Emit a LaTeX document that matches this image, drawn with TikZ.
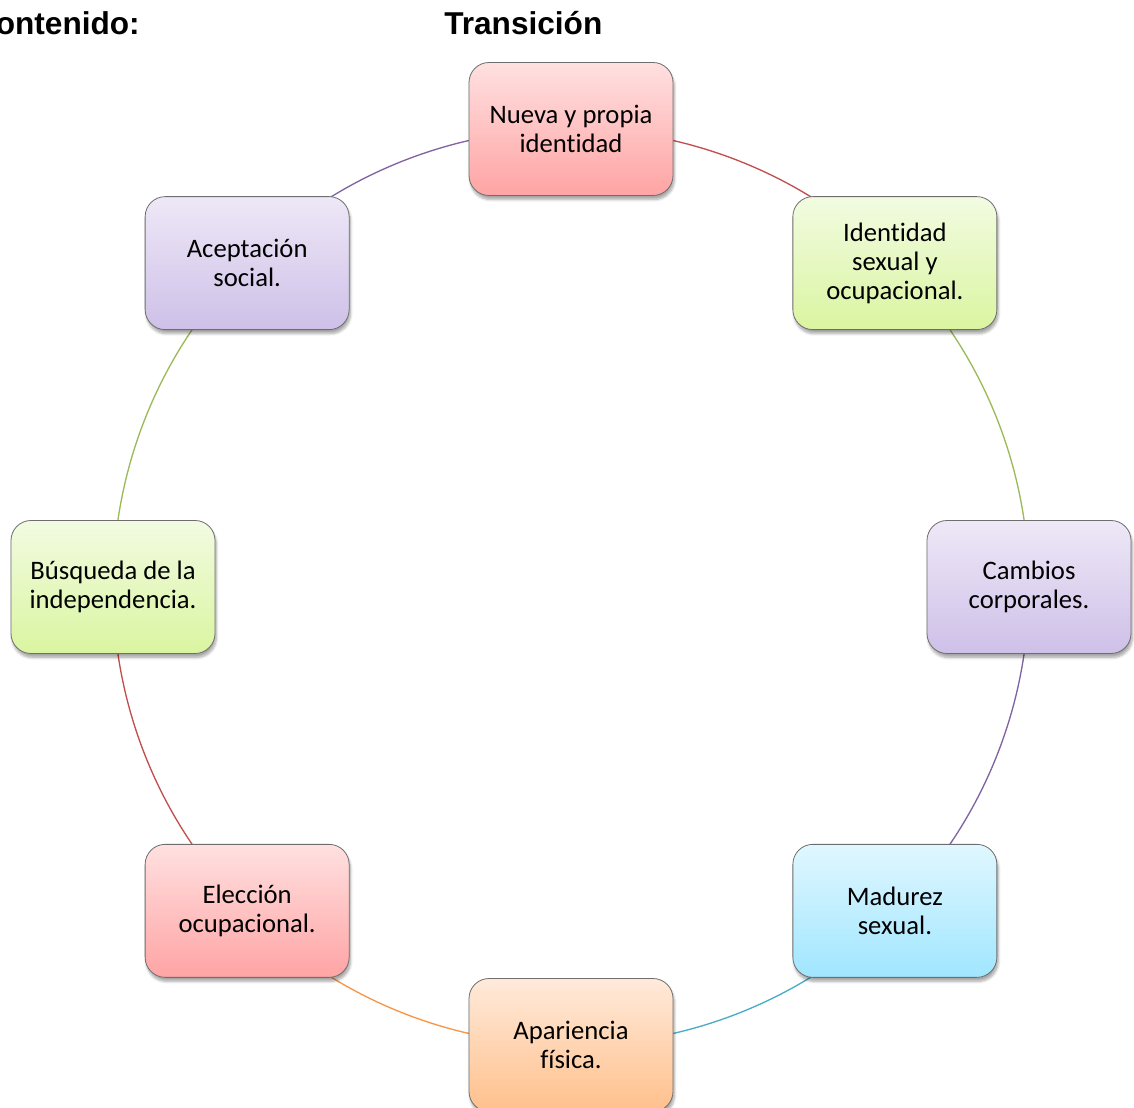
\documentclass[tikz,border=0pt]{standalone}
\usepackage{fontspec}
\setmainfont{Carlito}[Ligatures={NoCommon}]
\newfontfamily\arialfont{Liberation Sans}
\usetikzlibrary{shadows.blur}
\definecolor{lnred}{RGB}{192,80,77}
\definecolor{lngreen}{RGB}{155,187,89}
\definecolor{lnpurple}{RGB}{128,100,162}
\definecolor{lnblue}{RGB}{75,172,198}
\definecolor{lnorange}{RGB}{247,150,70}
\definecolor{redT}{RGB}{255,224,224}\definecolor{redB}{RGB}{255,164,164}
\definecolor{greenT}{RGB}{242,251,226}\definecolor{greenB}{RGB}{218,245,160}
\definecolor{purpleT}{RGB}{238,232,247}\definecolor{purpleB}{RGB}{206,192,232}
\definecolor{blueT}{RGB}{224,247,255}\definecolor{blueB}{RGB}{160,230,255}
\definecolor{orangeT}{RGB}{255,234,218}\definecolor{orangeB}{RGB}{255,192,140}
\definecolor{boxborder}{RGB}{110,110,110}
\tikzset{
  stagebox/.style={draw=boxborder, line width=0.6pt, rounded corners=15pt,
    minimum width=153pt, minimum height=99.75pt, inner sep=0pt, align=center,
    font=\fontsize{20}{21.75}\selectfont,
    blur shadow={shadow xshift=1pt, shadow yshift=-3pt, shadow blur steps=6, shadow opacity=35}},
  redbox/.style={stagebox, top color=redT, bottom color=redB},
  greenbox/.style={stagebox, top color=greenT, bottom color=greenB},
  purplebox/.style={stagebox, top color=purpleT, bottom color=purpleB},
  bluebox/.style={stagebox, top color=blueT, bottom color=blueB},
  orangebox/.style={stagebox, top color=orangeT, bottom color=orangeB},
  ring/.style={line width=1pt},
  header/.style={font=\arialfont\bfseries\fontsize{23.7}{28}\selectfont, inner sep=0pt}
}
\begin{document}
\begin{tikzpicture}[x=0.75pt,y=0.75pt]
\useasboundingbox (0,0) rectangle (1134,1107);
\coordinate (c) at (571,520);
\def\R{458}
% connectors (arcs of the ring)
\draw[ring, lnred]    ([shift={(90:\R)}]c) arc[start angle=90, end angle=45, radius=\R];
\draw[ring, lngreen]  ([shift={(45:\R)}]c) arc[start angle=45, end angle=0, radius=\R];
\draw[ring, lnpurple] ([shift={(0:\R)}]c) arc[start angle=0, end angle=-45, radius=\R];
\draw[ring, lnblue]   ([shift={(-45:\R)}]c) arc[start angle=-45, end angle=-90, radius=\R];
\draw[ring, lnorange] ([shift={(-90:\R)}]c) arc[start angle=-90, end angle=-135, radius=\R];
\draw[ring, lnred]    ([shift={(-135:\R)}]c) arc[start angle=-135, end angle=-180, radius=\R];
\draw[ring, lngreen]  ([shift={(180:\R)}]c) arc[start angle=180, end angle=135, radius=\R];
\draw[ring, lnpurple] ([shift={(135:\R)}]c) arc[start angle=135, end angle=90, radius=\R];
% nodes
\node[redbox]    (n1) at ([shift={(90:\R)}]c)   {Nueva y propia\\identidad};
\node[greenbox]  (n2) at ([shift={(45:\R)}]c)   {Identidad\\sexual y\\ocupacional.};
\node[purplebox] (n3) at ([shift={(0:\R)}]c)    {Cambios\\corporales.};
\node[bluebox]   (n4) at ([shift={(-45:\R)}]c)  {Madurez\\sexual.};
\node[orangebox] (n5) at ([shift={(-90:\R)}]c)  {Apariencia\\física.};
\node[redbox]    (n6) at ([shift={(-135:\R)}]c) {Elección\\ocupacional.};
\node[greenbox]  (n7) at ([shift={(180:\R)}]c)  {Búsqueda de la\\independencia.};
\node[purplebox] (n8) at ([shift={(135:\R)}]c)  {Aceptación\\social.};
% headers
\node[header, anchor=base east] (h1) at (140,1072) {Contenido:};
\node[header, anchor=base west] (h2) at (444,1072) {Transición};
\end{tikzpicture}
\end{document}
